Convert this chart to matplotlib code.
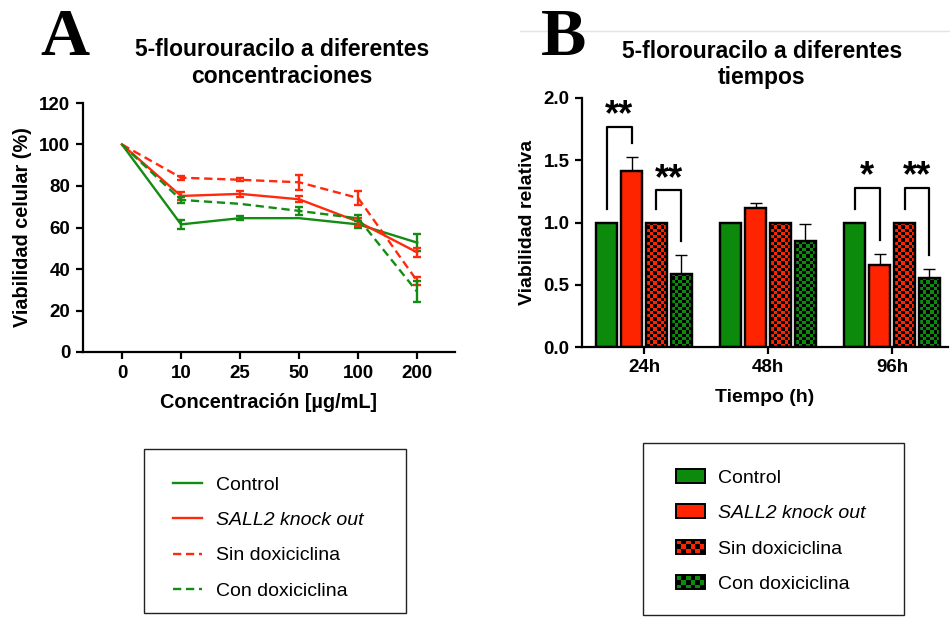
import numpy as np
import matplotlib
matplotlib.use("Agg")
import matplotlib.pyplot as plt
from matplotlib.patches import Rectangle
from matplotlib.lines import Line2D
from matplotlib.legend_handler import HandlerBase

plt.rcParams['font.family'] = ['Liberation Sans', 'DejaVu Sans']

# --- datos panel A (viabilidad % vs concentracion) ---
conc_labels = ['0', '10', '25', '50', '100', '200']
control_a = [100, 61.5, 64.5, 64.5, 61.5, 52.7]
control_a_err = [0, 2.3, 1.0, 0, 1.5, 4.0]
ko_a = [100, 75.2, 76.2, 73.6, 62.8, 48.0]
ko_a_err = [0, 2.0, 1.5, 1.5, 2.0, 2.0]
sin_a = [100, 84.0, 83.0, 81.8, 74.2, 34.2]
sin_a_err = [0, 1.0, 0.8, 3.5, 3.2, 2.0]
con_a = [100, 73.3, 71.4, 68.0, 64.4, 29.0]
con_a_err = [0, 1.5, 0, 1.8, 1.5, 5.0]

# --- datos panel B (viabilidad relativa vs tiempo) ---
time_labels = ['24h', '48h', '96h']
control_b = [1.0, 1.0, 1.0]
control_b_err = [0, 0, 0]
ko_b = [1.41, 1.12, 0.66]
ko_b_err = [0.12, 0.04, 0.09]
sin_b = [1.0, 1.0, 1.0]
sin_b_err = [0, 0, 0]
con_b = [0.59, 0.85, 0.555]
con_b_err = [0.15, 0.14, 0.07]
# (grupo, barra izq, barra der, altura corchete, etiqueta)
sig_pairs = [(0, 0, 1, 1.77, '**'), (0, 2, 3, 1.26, '**'),
             (2, 0, 1, 1.28, '*'), (2, 2, 3, 1.28, '**')]

labels = ['Control', 'SALL2 knock out', 'Sin doxiciclina', 'Con doxiciclina']

green = '#138c13'
red = '#ff2a0d'
green_bar = '#0c8a0c'
red_bar = '#ff2400'

W, H = 950, 622
fig = plt.figure(figsize=(W / 100, H / 100), dpi=100)


def px_axes(l, t, r, b):
    return fig.add_axes([l / W, 1 - b / H, (r - l) / W, (b - t) / H])


def style_axes(ax):
    for s in ['top', 'right']:
        ax.spines[s].set_visible(False)
    for s in ['left', 'bottom']:
        ax.spines[s].set_linewidth(1.6)
    ax.tick_params(width=1.6, length=5, labelsize=13.5, pad=4)
    for lab in ax.get_xticklabels() + ax.get_yticklabels():
        lab.set_fontweight('bold')


# ---------------- Panel A ----------------
axA = px_axes(83, 103, 455, 352)
x = np.arange(len(conc_labels))
series_a = [(control_a, control_a_err, green, '-'),
            (ko_a, ko_a_err, red, '-'),
            (sin_a, sin_a_err, red, (0, (3.5, 2))),
            (con_a, con_a_err, green, (0, (3.5, 2)))]
for vals, errs, col, ls in series_a:
    axA.plot(x, vals, color=col, lw=1.7, ls=ls)
    errs = np.array(errs)
    m = errs > 0
    axA.errorbar(x[m], np.array(vals)[m], yerr=errs[m], fmt='none', ecolor=col,
                 elinewidth=1.7, capsize=3.2, capthick=1.7)

axA.set_xlim(-0.66, 5.64)
axA.set_ylim(0, 120)
axA.set_yticks(range(0, 121, 20))
axA.set_xticks(x)
axA.set_xticklabels(conc_labels)
style_axes(axA)
axA.set_xlabel('Concentración [µg/mL]', fontsize=14.3, fontweight='bold', va='center')
axA.xaxis.set_label_coords(0.5, (352 - 403) / 249)
axA.set_ylabel('Viabilidad celular (%)', fontsize=14.3, fontweight='bold', va='center')
axA.yaxis.set_label_coords((23 - 83) / 372, 0.5)

# ---------------- Panel B ----------------
axB = px_axes(582, 98, 948, 347)
xg = np.arange(len(time_labels))
offsets = [-0.3, -0.1, 0.1, 0.3]
width = 0.17
xlim_b = (-0.5, 2.45)
ylim_b = (0, 2.0)

series_b = [(control_b, control_b_err, green_bar, False),
            (ko_b, ko_b_err, red_bar, False),
            (sin_b, sin_b_err, red_bar, True),
            (con_b, con_b_err, green_bar, True)]

bbox = axB.get_window_extent()
px_x = bbox.width / (xlim_b[1] - xlim_b[0])
px_y = bbox.height / (ylim_b[1] - ylim_b[0])
cell = 3.3

tops = []
for off, (vals, errs, col, checker) in zip(offsets, series_b):
    bars = axB.bar(xg + off, vals, width, color=col, edgecolor='black', lw=1.6, zorder=2)
    if checker:
        for p in bars.patches:
            x0, y0, w, h = p.get_x(), p.get_y(), p.get_width(), p.get_height()
            nx = max(1, int(round(w * px_x / cell)))
            ny = max(1, int(round(h * px_y / cell)))
            mask = np.add.outer(np.arange(ny), np.arange(nx)) % 2 == 0
            img = np.zeros((ny, nx, 4))
            img[mask] = [0, 0, 0, 1]
            im = axB.imshow(img, extent=[x0, x0 + w, y0, y0 + h], origin='lower',
                            interpolation='nearest', aspect='auto', zorder=2.5)
            im.set_clip_path(p)
    axB.bar(xg + off, vals, width, fill=False, edgecolor='black', lw=1.6, zorder=3)
    errs = np.array(errs)
    m = errs > 0
    axB.errorbar((xg + off)[m], np.array(vals)[m], yerr=[np.zeros(m.sum()), errs[m]],
                 fmt='none', ecolor='black', elinewidth=1.0, capsize=4.5, capthick=1.0, zorder=1)
    tops.append(np.array(vals) + errs)

# corchetes de significancia
for g, i, j, h, lab in sig_pairs:
    xl, xr = g + offsets[i], g + offsets[j]
    yl, yr = tops[i][g] + 0.11, tops[j][g] + 0.11
    axB.plot([xl, xl, xr, xr], [yl, h, h, yr], color='black', lw=1.6, zorder=4)
    axB.annotate(lab, xy=((xl + xr) / 2, h), xytext=(0, 1), textcoords='offset points',
                 ha='center', va='baseline', fontsize=26, fontweight='bold')

axB.set_xlim(*xlim_b)
axB.set_ylim(*ylim_b)
axB.set_yticks([0, 0.5, 1.0, 1.5, 2.0])
axB.set_yticklabels(['0.0', '0.5', '1.0', '1.5', '2.0'])
axB.set_xticks(xg)
axB.set_xticklabels(time_labels)
style_axes(axB)
axB.set_xlabel('Tiempo (h)', fontsize=14, fontweight='bold', va='center')
axB.xaxis.set_label_coords(0.5, (347 - 398) / 249)
axB.set_ylabel('Viabilidad relativa', fontsize=14, fontweight='bold', va='center')
axB.yaxis.set_label_coords((528 - 582) / 366, 0.5)

# ---------------- titulos y letras ----------------
fig.text(282 / W, 1 - 63 / H, '5-flourouracilo a diferentes\nconcentraciones', ha='center',
         va='center', fontsize=16.5, fontweight='bold', linespacing=1.2)
fig.text(762 / W, 1 - 64.5 / H, '5-florouracilo a diferentes\ntiempos', ha='center',
         va='center', fontsize=16.5, fontweight='bold', linespacing=1.2)
fig.text(64.5 / W, 1 - 55 / H, 'A', ha='center', va='baseline', fontsize=49,
         fontweight='bold', family='Liberation Serif')
fig.text(541 / W, 1 - 55 / H, 'B', ha='left', va='baseline', fontsize=49,
         fontweight='bold', family='Liberation Serif')
fig.add_artist(Line2D([520 / W, 1], [1 - 31 / H, 1 - 31 / H], color='#e4e4e4', lw=1))

# ---------------- leyendas ----------------
handles_a = [Line2D([], [], color=green, lw=1.7),
             Line2D([], [], color=red, lw=1.7),
             Line2D([], [], color=red, lw=1.7, ls=(0, (3.5, 2))),
             Line2D([], [], color=green, lw=1.7, ls=(0, (3.5, 2)))]
legA = fig.legend(handles_a, labels, loc='center left', bbox_to_anchor=(173 / W, 1 - 538 / H),
                  frameon=False, fontsize=14, handlelength=1.5, handletextpad=0.72,
                  labelspacing=0.91, borderpad=0, borderaxespad=0)
legA.get_texts()[1].set_style('italic')


class HandlerChecker(HandlerBase):
    def __init__(self, color, nx=6, ny=3):
        super().__init__()
        self.color = color
        self.nx, self.ny = nx, ny

    def create_artists(self, legend, orig_handle, xdescent, ydescent, width, height,
                       fontsize, trans):
        x0, y0 = -xdescent, -ydescent
        arts = [Rectangle((x0, y0), width, height, facecolor='black', lw=0, transform=trans)]
        cw, ch = width / self.nx, height / self.ny
        for i in range(self.nx):
            for j in range(self.ny):
                if (i + j) % 2 == 0:
                    arts.append(Rectangle((x0 + i * cw, y0 + j * ch), cw, ch,
                                          facecolor=self.color, lw=0, transform=trans))
        arts.append(Rectangle((x0, y0), width, height, fill=False, edgecolor='black',
                              lw=1.4, transform=trans))
        return arts


hb = [Rectangle((0, 0), 1, 1, facecolor=green_bar, edgecolor='black', lw=1.4),
      Rectangle((0, 0), 1, 1, facecolor=red_bar, edgecolor='black', lw=1.4),
      Rectangle((0, 0), 1, 1, facecolor=red_bar),
      Rectangle((0, 0), 1, 1, facecolor=green_bar)]
legB = fig.legend(hb, labels, loc='center left', bbox_to_anchor=(676 / W, 1 - 531 / H),
                  frameon=False, fontsize=14, handlelength=1.5, handleheight=0.72,
                  handletextpad=0.67, labelspacing=0.91, borderpad=0, borderaxespad=0,
                  handler_map={hb[2]: HandlerChecker(red_bar), hb[3]: HandlerChecker(green_bar)})
legB.get_texts()[1].set_style('italic')

for l, t, r, b in [(144, 449, 406, 613), (643, 443, 904, 615)]:
    fig.add_artist(Rectangle((l / W, 1 - b / H), (r - l) / W, (b - t) / H, fill=False,
                             edgecolor='#222222', lw=1.0, transform=fig.transFigure))

fig.savefig('out.png', dpi=100)
